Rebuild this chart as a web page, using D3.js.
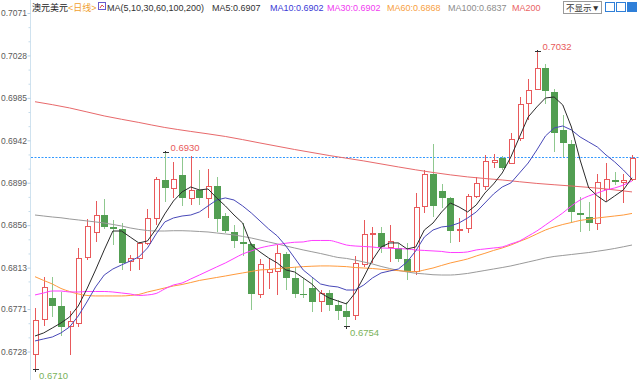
<!DOCTYPE html>
<html>
<head>
<meta charset="utf-8">
<script src="https://cdn.jsdelivr.net/npm/d3@7"></script>
<style>
  html, body { margin: 0; padding: 0; background: #fff; }
  svg { display: block; font-family: "Liberation Sans", "Noto Sans CJK SC", sans-serif; }
</style>
</head>
<body>
<div id="chart"></div>
<script>
// 澳元美元 日线 — 70 根K线 (开/高/低/收)
const open = [0.67245,0.67600,0.67822,0.67744,0.67532,0.67566,0.68235,0.68484,0.68663,0.68545,
  0.68522,0.68190,0.68225,0.68370,0.68630,0.69018,0.68934,0.69069,0.68833,0.68917,
  0.68833,0.68960,0.68653,0.68494,0.68393,0.68366,0.67860,0.68083,0.68089,0.68268,
  0.68028,0.67863,0.67927,0.67785,0.67868,0.67751,0.67690,0.67640,0.68157,0.68468,
  0.68476,0.68336,0.68326,0.68214,0.68089,0.68752,0.69077,0.68904,0.68833,0.68511,
  0.68522,0.68853,0.68950,0.69203,0.69238,0.69187,0.69441,0.69788,0.69930,0.70150,
  0.69913,0.69525,0.69383,0.68687,0.68646,0.68579,0.68917,0.69013,0.69005,0.69018];
const high = [0.67721,0.68035,0.68030,0.67883,0.67690,0.68329,0.68623,0.68805,0.68826,0.68613,
  0.68582,0.68253,0.68393,0.68721,0.69052,0.69300,0.69203,0.69241,0.69260,0.69119,
  0.69126,0.69052,0.68687,0.68562,0.68579,0.68380,0.68215,0.68215,0.68359,0.68292,
  0.68140,0.68022,0.68035,0.67903,0.67908,0.67802,0.67782,0.68248,0.68613,0.68545,
  0.68545,0.68557,0.68377,0.68377,0.68883,0.69119,0.69383,0.68981,0.68849,0.68630,
  0.68876,0.69052,0.69276,0.69281,0.69266,0.69491,0.69862,0.70038,0.70320,0.70190,
  0.69937,0.69677,0.69423,0.68849,0.68798,0.69079,0.69187,0.69094,0.69079,0.69271];
const low = [0.67100,0.67539,0.67633,0.67432,0.67245,0.67529,0.68207,0.68393,0.68518,0.68359,
  0.68106,0.68096,0.68106,0.68359,0.68562,0.68798,0.68836,0.68755,0.68765,0.68765,
  0.68630,0.68494,0.68478,0.68326,0.68248,0.67701,0.67819,0.67910,0.67853,0.67903,
  0.67819,0.67819,0.67684,0.67684,0.67690,0.67599,0.67540,0.67600,0.68136,0.68174,
  0.68281,0.68187,0.68190,0.68005,0.68055,0.68681,0.68646,0.68734,0.68377,0.68393,
  0.68484,0.68833,0.68921,0.69140,0.69115,0.69181,0.69416,0.69626,0.69925,0.69788,
  0.69305,0.69248,0.68585,0.68494,0.68501,0.68511,0.68805,0.68967,0.68782,0.69011];
const close = [0.67599,0.67924,0.67744,0.67532,0.67582,0.68225,0.68545,0.68663,0.68545,0.68518,
  0.68180,0.68223,0.68370,0.68630,0.69018,0.68934,0.69023,0.68833,0.68912,0.68833,
  0.68957,0.68620,0.68504,0.68403,0.68370,0.67863,0.68157,0.68106,0.68268,0.68028,
  0.67863,0.67853,0.67785,0.67870,0.67751,0.67694,0.67625,0.68174,0.68461,0.68476,
  0.68339,0.68393,0.68214,0.68089,0.68741,0.69077,0.68752,0.68838,0.68501,0.68518,
  0.68849,0.68985,0.69208,0.69213,0.69137,0.69430,0.69778,0.69920,0.70150,0.69923,
  0.69491,0.69390,0.68697,0.68663,0.68579,0.68991,0.69018,0.69005,0.69012,0.69234];

// 均线 (读自图上, 每根K线一个值)
const ma5 = [0.67437,0.67468,0.67518,0.67569,0.67630,0.67741,0.67914,0.68106,0.68309,0.68501,
  0.68501,0.68440,0.68380,0.68400,0.68522,0.68674,0.68805,0.68897,0.68947,0.68917,
  0.68927,0.68836,0.68755,0.68663,0.68582,0.68359,0.68289,0.68228,0.68177,0.68106,
  0.68086,0.68025,0.67964,0.67873,0.67822,0.67792,0.67762,0.67873,0.68035,0.68207,
  0.68339,0.68380,0.68380,0.68319,0.68339,0.68511,0.68582,0.68694,0.68785,0.68745,
  0.68694,0.68765,0.68886,0.68978,0.69089,0.69251,0.69454,0.69656,0.69758,0.69849,
  0.69859,0.69778,0.69555,0.69221,0.68937,0.68856,0.68795,0.68856,0.68917,0.69040];
const ma10 = [0.67387,0.67407,0.67427,0.67468,0.67529,0.67640,0.67782,0.67934,0.68055,0.68116,
  0.68157,0.68197,0.68238,0.68329,0.68471,0.68593,0.68633,0.68653,0.68663,0.68694,
  0.68755,0.68815,0.68836,0.68815,0.68755,0.68684,0.68603,0.68522,0.68451,0.68349,
  0.68228,0.68106,0.68035,0.67964,0.67944,0.67934,0.67903,0.67903,0.67954,0.68025,
  0.68076,0.68096,0.68116,0.68187,0.68299,0.68440,0.68511,0.68542,0.68552,0.68582,
  0.68633,0.68694,0.68785,0.68876,0.68947,0.68988,0.69089,0.69190,0.69322,0.69464,
  0.69545,0.69565,0.69525,0.69454,0.69403,0.69352,0.69271,0.69201,0.69119,0.69028];
const ma30 = [0.67853,0.67873,0.67893,0.67893,0.67883,0.67883,0.67888,0.67888,0.67888,0.67883,
  0.67873,0.67863,0.67848,0.67853,0.67868,0.67914,0.67954,0.67974,0.68015,0.68055,
  0.68096,0.68137,0.68177,0.68223,0.68268,0.68299,0.68329,0.68349,0.68364,0.68377,
  0.68387,0.68390,0.68405,0.68405,0.68405,0.68385,0.68359,0.68349,0.68344,0.68339,
  0.68329,0.68326,0.68322,0.68319,0.68309,0.68304,0.68299,0.68294,0.68283,0.68283,
  0.68289,0.68309,0.68319,0.68329,0.68339,0.68370,0.68400,0.68450,0.68501,0.68562,
  0.68623,0.68684,0.68755,0.68815,0.68856,0.68886,0.68917,0.68937,0.68967,0.69008];
const ma60 = [0.68038,0.68000,0.67964,0.67919,0.67888,0.67863,0.67848,0.67843,0.67843,0.67843,
  0.67843,0.67848,0.67858,0.67883,0.67903,0.67924,0.67944,0.67959,0.67979,0.68000,
  0.68015,0.68030,0.68045,0.68061,0.68076,0.68091,0.68106,0.68111,0.68121,0.68126,
  0.68134,0.68140,0.68144,0.68147,0.68147,0.68144,0.68140,0.68131,0.68126,0.68121,
  0.68113,0.68106,0.68099,0.68093,0.68089,0.68106,0.68126,0.68152,0.68177,0.68197,
  0.68218,0.68248,0.68275,0.68304,0.68329,0.68359,0.68395,0.68430,0.68471,0.68511,
  0.68542,0.68567,0.68587,0.68608,0.68620,0.68633,0.68643,0.68653,0.68663,0.68679];
const ma100 = [0.68663,0.68653,0.68643,0.68635,0.68623,0.68613,0.68603,0.68593,0.68582,0.68567,
  0.68552,0.68532,0.68517,0.68506,0.68501,0.68501,0.68504,0.68504,0.68501,0.68496,
  0.68491,0.68481,0.68471,0.68461,0.68446,0.68430,0.68410,0.68390,0.68370,0.68349,
  0.68329,0.68309,0.68291,0.68273,0.68253,0.68233,0.68223,0.68207,0.68187,0.68167,
  0.68142,0.68121,0.68101,0.68086,0.68073,0.68066,0.68058,0.68055,0.68055,0.68061,
  0.68071,0.68086,0.68101,0.68116,0.68131,0.68147,0.68167,0.68187,0.68207,0.68228,
  0.68243,0.68253,0.68263,0.68273,0.68283,0.68296,0.68309,0.68324,0.68341,0.68359];
// MA200 读点: [K线序号, 值]
const ma200 = [[0,0.69811],[4,0.69748],[8,0.69667],[12,0.69601],[15,0.69550],[18,0.69510],
  [22,0.69459],[26,0.69393],[30,0.69327],[34,0.69266],[38,0.69211],[42,0.69150],
  [46,0.69094],[50,0.69049],[54,0.69018],[58,0.68983],[62,0.68957],[66,0.68927],[69,0.68897]];

const lastPrice = 0.6925;
const tickValues = [0.7071,0.7028,0.6985,0.6942,0.6899,0.6856,0.6813,0.6771,0.6728];
const tickLabels = ['0.7071','0.7028','0.6985','0.6942','0.6899','0.6856','0.6813','0.6771','0.6728'];
// 最高/最低标注: [K线序号, 文字]
const highMarks = [[15,'0.6930'],[58,'0.7032']];
const lowMarks = [[0,'0.6710'],[36,'0.6754']];

const maLegend = [
  {text: 'MA5:0.6907', color: '#333333', x: 212},
  {text: 'MA10:0.6902', color: '#3a3ad6', x: 270},
  {text: 'MA30:0.6902', color: '#f03cf0', x: 327},
  {text: 'MA60:0.6868', color: '#f7a042', x: 387},
  {text: 'MA100:0.6837', color: '#8c8c8c', x: 448},
  {text: 'MA200', color: '#ea6464', x: 512}
];

const W = 640, H = 380;
const UP = '#e8595b', DOWN = '#529e52';

const svg = d3.select('#chart').append('svg')
  .attr('width', W).attr('height', H);

const x = d3.scalePoint().domain(d3.range(open.length)).range([35, 632]);
const y = d3.scaleLinear().domain([0.6728, 0.7071]).range([351.5, 13]);
const px = i => Math.round(x(i)) + 0.5;

// 价格轴
const axisX = 30.5;
svg.append('line')
  .attr('x1', axisX).attr('x2', axisX).attr('y1', 0).attr('y2', H)
  .attr('stroke', '#cfe2ef');

const minor = [];
for (let k = 0; k < tickValues.length - 1; k++) {
  const a = tickValues[k], b = tickValues[k + 1];
  minor.push(a - (a - b) / 3, a - 2 * (a - b) / 3);
}
const minorAxis = svg.append('g')
  .attr('transform', `translate(${axisX},0)`)
  .call(d3.axisLeft(y).tickValues(minor).tickSize(2).tickFormat(''));
minorAxis.select('.domain').remove();
minorAxis.selectAll('line').attr('stroke', '#c5dbea');

const yAxis = svg.append('g')
  .attr('transform', `translate(${axisX},0)`)
  .call(d3.axisLeft(y).tickValues(tickValues).tickSize(3).tickPadding(0.5)
    .tickFormat((d, i) => tickLabels[i]));
yAxis.select('.domain').remove();
yAxis.selectAll('line').attr('stroke', '#b7d2e6');
yAxis.selectAll('text')
  .attr('fill', '#5a5a5a')
  .style('font-size', '8.5px')
  .style('font-family', '"Liberation Sans", sans-serif');

// 当前价虚线
svg.append('line')
  .attr('x1', 31).attr('x2', W)
  .attr('y1', Math.round(y(lastPrice)) + 0.5).attr('y2', Math.round(y(lastPrice)) + 0.5)
  .attr('stroke', '#3399ff').attr('stroke-dasharray', '2,1.5');

// K线
const candles = svg.append('g').attr('shape-rendering', 'crispEdges');
const idx = d3.range(open.length);

candles.selectAll('.wick').data(idx).join('line')
  .attr('class', 'wick')
  .attr('x1', px).attr('x2', px)
  .attr('y1', i => y(high[i])).attr('y2', i => y(low[i]))
  .attr('stroke', i => close[i] >= open[i] ? UP : '#8fc88f');

candles.selectAll('.body').data(idx).join('rect')
  .attr('class', 'body')
  .attr('x', i => close[i] >= open[i] ? px(i) - 2.5 : px(i) - 3.5)
  .attr('width', i => close[i] >= open[i] ? 5 : 7)
  .attr('y', i => y(Math.max(open[i], close[i])))
  .attr('height', i => Math.max(1.5, Math.abs(y(open[i]) - y(close[i]))))
  .attr('fill', i => close[i] >= open[i] ? '#fff' : DOWN)
  .attr('stroke', i => close[i] >= open[i] ? UP : 'none')
  .attr('stroke-width', 1);

// 均线
const lineIdx = d3.line().x((d, i) => x(i)).y(d => y(d));
const lineSmooth = d3.line().x((d, i) => x(i)).y(d => y(d)).curve(d3.curveMonotoneX);
const maLines = [
  {data: ma200, color: '#e8696b', pairs: true},
  {data: ma100, color: '#9a9a9a'},
  {data: ma60, color: '#ff9a3c'},
  {data: ma30, color: '#ff3cff'},
  {data: ma10, color: '#4848b8', linear: true},
  {data: ma5, color: '#2b2b2b', linear: true}
];
maLines.forEach(m => {
  let gen;
  if (m.pairs) gen = d3.line().x(d => x(d[0])).y(d => y(d[1])).curve(d3.curveMonotoneX);
  else gen = m.linear ? lineIdx : lineSmooth;
  svg.append('path')
    .attr('d', gen(m.data))
    .attr('fill', 'none')
    .attr('stroke', m.color)
    .attr('stroke-width', 1);
});

// 最高/最低标注
function mark(i, v, label, isHigh) {
  const cx = px(i), cy = Math.round(y(v)) + 0.5;
  svg.append('path')
    .attr('d', `M${cx - 3},${cy}H${cx + 3}M${cx},${cy}V${cy + (isHigh ? -2 : 2)}`)
    .attr('stroke', '#333').attr('fill', 'none').attr('shape-rendering', 'crispEdges');
  svg.append('text')
    .attr('x', cx + (isHigh ? 5 : 3.5))
    .attr('y', isHigh ? cy - 2 : cy + 9)
    .attr('fill', isHigh ? '#e85a5a' : '#7ab25a')
    .style('font-size', '9.5px')
    .text(label);
}
highMarks.forEach(([i, t]) => mark(i, high[i], t, true));
lowMarks.forEach(([i, t]) => mark(i, low[i], t, false));

// 顶部图例
const head = svg.append('g').style('font-size', '9px');
head.append('text').attr('x', 32).attr('y', 10.5).attr('fill', '#222').text('澳元美元');
head.append('text').attr('x', 68).attr('y', 10.5).attr('fill', '#f0a030').text('<日线>');
head.append('rect').attr('x', 98.5).attr('y', 2.5).attr('width', 7).attr('height', 7)
  .attr('fill', '#fff').attr('stroke', '#6a5acd');
head.append('path').attr('d', 'M100,8L102,5L104,7').attr('stroke', '#e05050').attr('fill', 'none');
head.append('text').attr('x', 107).attr('y', 10.5).attr('fill', '#333').text('MA(5,10,30,60,100,200)');
head.selectAll('.lg').data(maLegend).join('text')
  .attr('class', 'lg')
  .attr('x', d => d.x).attr('y', 10.5)
  .attr('fill', d => d.color)
  .text(d => d.text);

// 右上角控件
head.append('rect').attr('x', 563.5).attr('y', 1.5).attr('width', 38).attr('height', 12)
  .attr('fill', '#fff').attr('stroke', '#9a9a9a');
head.append('text').attr('x', 566).attr('y', 11).attr('fill', '#333')
  .style('font-size', '8.5px').text('不显示▼');
[605.5, 616.5, 627.5].forEach((bx, k) => {
  head.append('rect').attr('x', bx).attr('y', 2.5).attr('width', 9).attr('height', 9)
    .attr('fill', k === 2 ? '#2f7fd8' : '#fff').attr('stroke', '#2f7fd8');
});
</script>
</body>
</html>
